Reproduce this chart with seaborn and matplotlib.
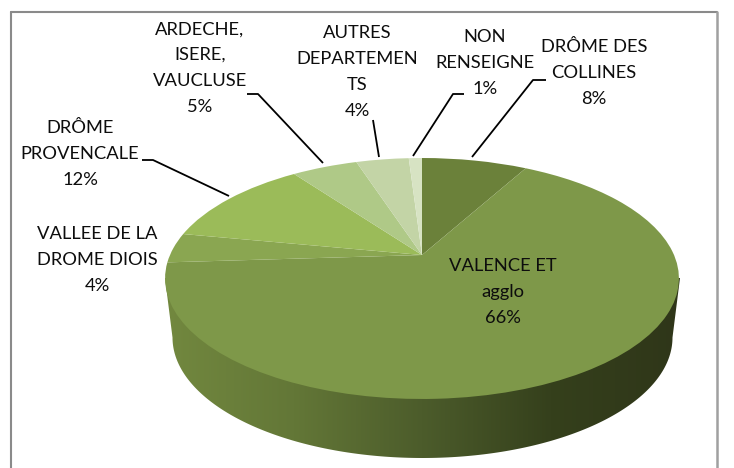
import numpy as np
import matplotlib
matplotlib.use('Agg')
import matplotlib.pyplot as plt
from matplotlib.patches import Polygon
from matplotlib.transforms import Transform
import seaborn as sns

labels = ['DRÔME DES\nCOLLINES', 'VALENCE ET\nagglo', 'VALLEE DE LA\nDROME DIOIS', 'DRÔME\nPROVENCALE',
          'ARDECHE,\nISERE,\nVAUCLUSE', 'AUTRES\nDEPARTEMEN\nTS', 'NON\nRENSEIGNE']
values = [8, 66, 4, 12, 5, 4, 1]
colors = ['#6b813a', '#7e9849', '#8aa651', '#9bbb59', '#afc987', '#c3d4a6', '#d7e3c3']

# layout, in pixels of the picture
label_pos = [(594, 73), (503, 292), (97, 260), (80, 154), (200, 68), (357, 72), (485, 63)]
leaders = [
    [(546, 80), (533, 80), (472, 157)],
    [(142, 160), (153, 160), (229, 196)],
    [(247, 94), (258, 94), (323, 163)],
    [(373, 120), (379, 157)],
    [(464, 94), (453, 94), (413, 156)],
]
side_colors = ['#72883f', '#637737', '#4c5c2b', '#35401c', '#2f3619']


class Perspective(Transform):
    # tilts the flat pie: the apex sits above the middle of the ellipse
    input_dims = 2
    output_dims = 2
    is_affine = False

    def transform_non_affine(self, values):
        u, v = values[:, 0], values[:, 1]
        w = 1 + 0.195 * v
        return np.column_stack([422 + 252 * u / w, 255 - 115.9 * v / w])


sns.set_theme(style='white')
plt.rcParams['font.family'] = ['Lato', 'DejaVu Sans']

fig = plt.figure(figsize=(7.34, 4.68), dpi=100, facecolor='white')
ax = fig.add_axes([0, 0, 1, 1])

wedges, _ = ax.pie(values, colors=colors, startangle=90, counterclock=False, radius=1)
persp = Perspective()
for w in wedges:
    w.set_transform(persp + ax.transData)
    w.set_zorder(2)
    w.set_linewidth(0)

# side of the pie: horizontal gradient clipped to the lower rim
cmap = sns.blend_palette(side_colors, as_cmap=True)
im = ax.imshow(np.linspace(0, 1, 256)[None, :], cmap=cmap, aspect='auto',
               extent=(165, 680, 458, 278), zorder=1, interpolation='bilinear')
t = np.linspace(np.pi, 0, 200)
rim = np.column_stack([422.5 + 250 * np.cos(t), 337.5 + 120.5 * np.sin(t)])
outline = np.vstack([[(165, 278)], rim, [(680, 278)]])
im.set_clip_path(Polygon(outline, closed=True, transform=ax.transData))

for lab, val, (x, y) in zip(labels, values, label_pos):
    ax.text(x, y, lab + '\n' + str(val) + '%', ha='center', va='center', ma='center',
            fontsize=13.2, color='#0d0d0d', linespacing=1.75, zorder=4)

for pts in leaders:
    xs, ys = zip(*pts)
    ax.plot(xs, ys, color='black', lw=1.3, zorder=3, solid_capstyle='butt')

# chart border, cropped at the bottom of the picture
ax.plot([11, 11], [468, 12], color='#8a8a8a', lw=1.5, zorder=3)
ax.plot([11, 716.5], [12, 12], color='#8a8a8a', lw=1.5, zorder=3)
ax.plot([716.5, 716.5], [12, 468], color='#a0a0a0', lw=1.8, zorder=3)

ax.set_aspect('auto')
ax.set_xlim(0, 734)
ax.set_ylim(468, 0)
ax.axis('off')

fig.savefig('out.png', dpi=100)
